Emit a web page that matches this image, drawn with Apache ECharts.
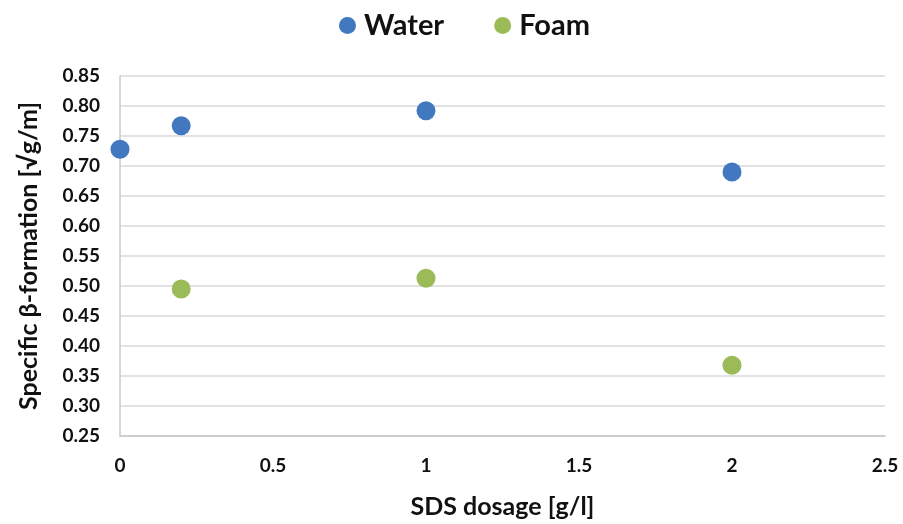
<!DOCTYPE html>
<html>
<head>
<meta charset="utf-8">
<script src="https://cdn.jsdelivr.net/npm/echarts@6/dist/echarts.min.js"></script>
<style>
  html, body { margin: 0; padding: 0; background: #fff; }
  #chart { width: 903px; height: 524px; }
</style>
</head>
<body>
<div id="chart"></div>
<script>
// SDS dosage [g/l] for each measurement
const waterDosage = [0, 0.2, 1, 2];
const waterValues = [0.728, 0.767, 0.792, 0.690];
const foamDosage = [0.2, 1, 2];
const foamValues = [0.495, 0.513, 0.368];

const seriesNames = ['Water', 'Foam'];
const xTitle = 'SDS dosage [g/l]';
const yTitle = 'Specific \u03b2-formation [\u221ag/m]';

const font = 'Lato, "Open Sans", sans-serif';
const ink = '#111111';

const chart = echarts.init(document.getElementById('chart'), null, { renderer: 'canvas' });
chart.setOption({
  animation: false,
  backgroundColor: '#ffffff',
  legend: {
    top: 6,
    left: 334,
    itemGap: 50,
    itemWidth: 17,
    itemHeight: 17,
    icon: 'circle',
    textStyle: { fontFamily: font, fontWeight: 'bold', fontSize: 29, color: ink, padding: [0, 0, 0, 3] },
    data: seriesNames
  },
  grid: { left: 120, right: 18, top: 76, bottom: 88 },
  xAxis: {
    type: 'value',
    min: 0, max: 2.5, interval: 0.5,
    name: xTitle,
    nameLocation: 'middle',
    nameGap: 58,
    nameTextStyle: { fontFamily: font, fontWeight: 'bold', fontSize: 25, color: ink },
    axisLine: { show: true, lineStyle: { color: '#c8c8c8', width: 1.5 } },
    axisTick: { show: false },
    splitLine: { show: false },
    axisLabel: {
      margin: 20,
      fontFamily: font, fontWeight: 'bold', fontSize: 19, color: ink,
      formatter: v => String(v)
    }
  },
  yAxis: {
    type: 'value',
    min: 0.25, max: 0.85, interval: 0.05,
    name: yTitle,
    nameLocation: 'middle',
    nameGap: 79,
    nameTextStyle: { fontFamily: font, fontWeight: 'bold', fontSize: 25, color: ink },
    axisLine: { show: true, lineStyle: { color: '#c8c8c8', width: 1.5 } },
    axisTick: { show: false },
    splitLine: { show: true, lineStyle: { color: '#d9d9d9', width: 1.5 } },
    axisLabel: {
      margin: 20,
      fontFamily: font, fontWeight: 'bold', fontSize: 19, color: ink,
      formatter: v => v.toFixed(2)
    }
  },
  series: [
    {
      name: seriesNames[0],
      type: 'scatter',
      symbolSize: 19,
      itemStyle: { color: '#4178c0', opacity: 1 },
      data: waterDosage.map((x, i) => [x, waterValues[i]])
    },
    {
      name: seriesNames[1],
      type: 'scatter',
      symbolSize: 19,
      itemStyle: { color: '#9bbb59', opacity: 1 },
      data: foamDosage.map((x, i) => [x, foamValues[i]])
    }
  ]
});
</script>
</body>
</html>
